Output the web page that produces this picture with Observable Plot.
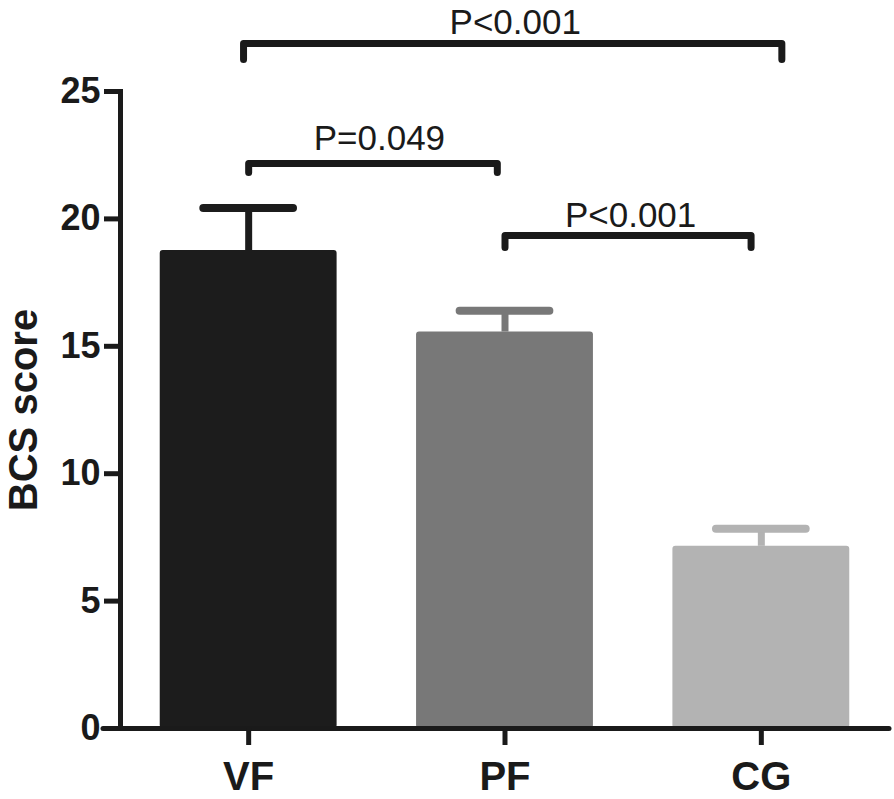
<!DOCTYPE html>
<html>
<head>
<meta charset="utf-8">
<script src="https://cdn.jsdelivr.net/npm/d3@7"></script>
<script src="https://cdn.jsdelivr.net/npm/@observablehq/plot@0.6"></script>
<style>
  html, body { margin: 0; padding: 0; background: #ffffff; }
  #chart { width: 894px; height: 799px; }
</style>
</head>
<body>
<div id="chart"></div>
<script>
// ---- data ----
const categories = ["VF", "PF", "CG"];
const means = [18.76, 15.56, 7.15];
const sds = [1.67, 0.84, 0.69];
const yTicks = [0, 5, 10, 15, 20, 25];

const bracketLabels = ["P<0.001", "P=0.049", "P<0.001"];
const bracketFrom = [-0.02, 0, 1];
const bracketTo = [2.08, 0.97, 1.96];
const bracketY = [26.88, 22.17, 19.35];
const bracketTip = [26.26, 21.82, 18.88];
const labelX = [1.04, 0.51, 1.49];
const labelY = [27.25, 22.70, 19.70];

// ---- styles ----
const barColors = ["#1c1c1c", "#787878", "#b3b3b3"];
const ink = "#1a1a1a";
const barHalf = 0.345;
const capHalf = 0.175;

const bars = categories.map((c, i) => ({
  i, cat: c, mean: means[i], hi: means[i] + sds[i], color: barColors[i]
}));

const bracketPts = [];
bracketLabels.forEach((lab, k) => {
  bracketPts.push({k, x: bracketFrom[k], y: bracketTip[k]});
  bracketPts.push({k, x: bracketFrom[k], y: bracketY[k]});
  bracketPts.push({k, x: bracketTo[k], y: bracketY[k]});
  bracketPts.push({k, x: bracketTo[k], y: bracketTip[k]});
});
const bracketText = bracketLabels.map((lab, k) => ({label: lab, x: labelX[k], y: labelY[k]}));

const chart = Plot.plot({
  width: 894,
  height: 799,
  marginLeft: 120,
  marginRight: 5,
  marginTop: 91,
  marginBottom: 71,
  style: {fontFamily: "'Liberation Sans', Arial, Helvetica, sans-serif", color: ink, background: "#ffffff"},
  x: {type: "linear", domain: [-0.5, 2.5]},
  y: {domain: [0, 25]},
  color: {type: "identity"},
  marks: [
    Plot.rect(bars, {
      x1: d => d.i - barHalf, x2: d => d.i + barHalf,
      y1: 0, y2: "mean", fill: "color", rx: 3
    }),
    Plot.ruleX(bars, {x: "i", y1: "mean", y2: "hi", stroke: "color", strokeWidth: 7}),
    Plot.ruleY(bars, {
      y: "hi", x1: d => d.i - capHalf, x2: d => d.i + capHalf,
      stroke: "color", strokeWidth: 8, strokeLinecap: "round"
    }),
    Plot.frame({anchor: "left", stroke: ink, strokeWidth: 5}),
    Plot.ruleY([0], {stroke: ink, strokeWidth: 5, insetLeft: -17, strokeLinecap: "round"}),
    Plot.axisY({
      ticks: yTicks, tickSize: 16, tickPadding: 4, fontSize: 36, fontWeight: "bold",
      strokeWidth: 5, label: null, tickFormat: d => String(d)
    }),
    Plot.axisX({
      ticks: [0, 1, 2], tickSize: 17, tickPadding: 16, fontSize: 40, fontWeight: "bold",
      strokeWidth: 5, label: null, tickFormat: d => categories[d]
    }),
    Plot.line(bracketPts, {
      x: "x", y: "y", z: "k", stroke: ink, strokeWidth: 7,
      strokeLinecap: "round", strokeLinejoin: "round"
    }),
    Plot.text(bracketText, {
      x: "x", y: "y", text: "label", lineAnchor: "bottom",
      fontSize: 35, fill: ink
    }),
    Plot.text(["BCS score"], {
      frameAnchor: "left", text: d => d, rotate: -90, dx: -96,
      textAnchor: "middle", lineAnchor: "middle",
      fontSize: 40, fontWeight: "bold", fill: ink
    })
  ]
});
document.getElementById("chart").appendChild(chart);
</script>
</body>
</html>
